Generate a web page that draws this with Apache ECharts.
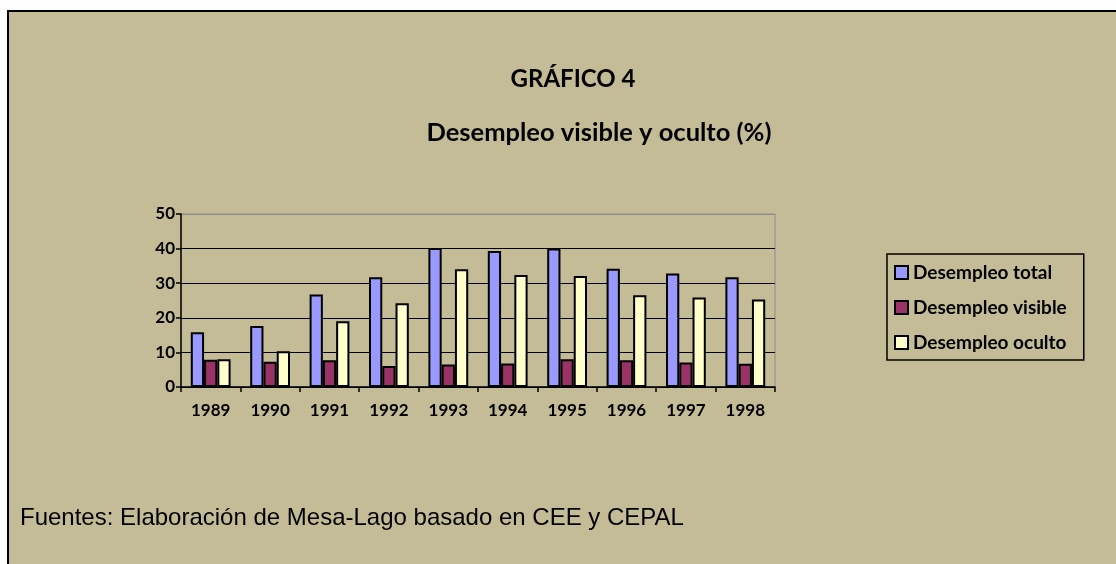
<!DOCTYPE html>
<html>
<head>
<meta charset="utf-8">
<title>Desempleo visible y oculto</title>
<script src="https://cdn.jsdelivr.net/npm/echarts@6/dist/echarts.min.js"></script>
<style>
    html, body { margin: 0; padding: 0; background: #ffffff; }
    #chart { width: 1116px; height: 564px; }
</style>
</head>
<body>
<div id="chart"></div>
<script>
// years on the x axis
var years = ['1989', '1990', '1991', '1992', '1993', '1994', '1995', '1996', '1997', '1998'];
// values in %
var desempleoTotal   = [15.8, 17.6, 26.7, 31.7, 40.2, 39.3, 40.0, 34.2, 32.8, 31.7];
var desempleoVisible = [7.9, 7.3, 7.7, 6.1, 6.5, 6.8, 8.0, 7.7, 7.1, 6.7];
var desempleoOculto  = [8.0, 10.3, 19.0, 24.2, 34.0, 32.4, 32.1, 26.5, 25.9, 25.3];
var seriesNames = ['Desempleo total', 'Desempleo visible', 'Desempleo oculto'];

var bg = '#c4bc97';
var boldFont = 'Lato';

var chartDom = document.getElementById('chart');
var myChart = echarts.init(chartDom, null, { renderer: 'canvas' });
var option;

function barSeries(name, data, color) {
    return {
        name: name,
        type: 'bar',
        data: data,
        barGap: '0%',
        barCategoryGap: '33%',
        itemStyle: { color: color, borderColor: '#000', borderWidth: 2 },
        emphasis: { disabled: true }
    };
}

option = {
    animation: false,
    backgroundColor: '#ffffff',
    graphic: [
        {
            type: 'rect',
            z: -10,
            shape: { x: 8, y: 11, width: 1200, height: 600 },
            style: { fill: bg, stroke: '#000', lineWidth: 2 }
        },
        {
            type: 'text',
            left: 20,
            top: 506,
            style: {
                text: 'Fuentes: Elaboración de Mesa-Lago basado en CEE y CEPAL',
                font: '24px "Liberation Sans", Arial, sans-serif',
                fill: '#000'
            }
        }
    ],
    title: [
        {
            text: 'GRÁFICO 4',
            left: 568,
            top: 62,
            textAlign: 'center',
            textStyle: { fontFamily: boldFont, fontWeight: 'bold', fontSize: 24, color: '#000' }
        },
        {
            text: 'Desempleo visible y oculto (%)',
            left: 594,
            top: 115,
            textAlign: 'center',
            textStyle: { fontFamily: boldFont, fontWeight: 'bold', fontSize: 25.5, color: '#000' }
        }
    ],
    legend: {
        data: seriesNames,
        orient: 'vertical',
        left: 887,
        top: 254,
        padding: [9, 17, 8, 7],
        itemGap: 16,
        itemWidth: 13,
        itemHeight: 13,
        backgroundColor: 'transparent',
        borderColor: '#000',
        borderWidth: 1.5,
        borderRadius: 0,
        icon: 'rect',
        selectedMode: false,
        textStyle: { fontFamily: boldFont, fontWeight: 'bold', fontSize: 19, color: '#000', padding: [0, 0, 0, 0] }
    },
    grid: {
        left: 181,
        right: 1116 - 775,
        top: 214,
        bottom: 564 - 387,
        show: true,
        borderColor: '#8c8c8c',
        borderWidth: 1,
        backgroundColor: 'transparent'
    },
    xAxis: {
        type: 'category',
        data: years,
        axisLine: { show: true, lineStyle: { color: '#000', width: 1.5 } },
        axisTick: { show: true, alignWithLabel: false, length: 5, lineStyle: { color: '#000', width: 1.5 } },
        axisLabel: { fontFamily: boldFont, fontWeight: 'bold', fontSize: 17, color: '#000', margin: 15 }
    },
    yAxis: {
        type: 'value',
        min: 0,
        max: 50,
        interval: 10,
        axisLine: { show: true, lineStyle: { color: '#000', width: 1.5 } },
        axisTick: { show: true, inside: false, length: 5, lineStyle: { color: '#000', width: 1.5 } },
        // last split line (50) is the grey plot-area border
        splitLine: { show: true, lineStyle: { color: ['#000', '#000', '#000', '#000', '#000', '#8c8c8c'], width: 1.2 } },
        axisLabel: { fontFamily: boldFont, fontWeight: 'bold', fontSize: 17, color: '#000', margin: 6 }
    },
    series: [
        barSeries(seriesNames[0], desempleoTotal, '#9999ff'),
        barSeries(seriesNames[1], desempleoVisible, '#993366'),
        barSeries(seriesNames[2], desempleoOculto, '#ffffcc')
    ]
};

option && myChart.setOption(option);
</script>
</body>
</html>
